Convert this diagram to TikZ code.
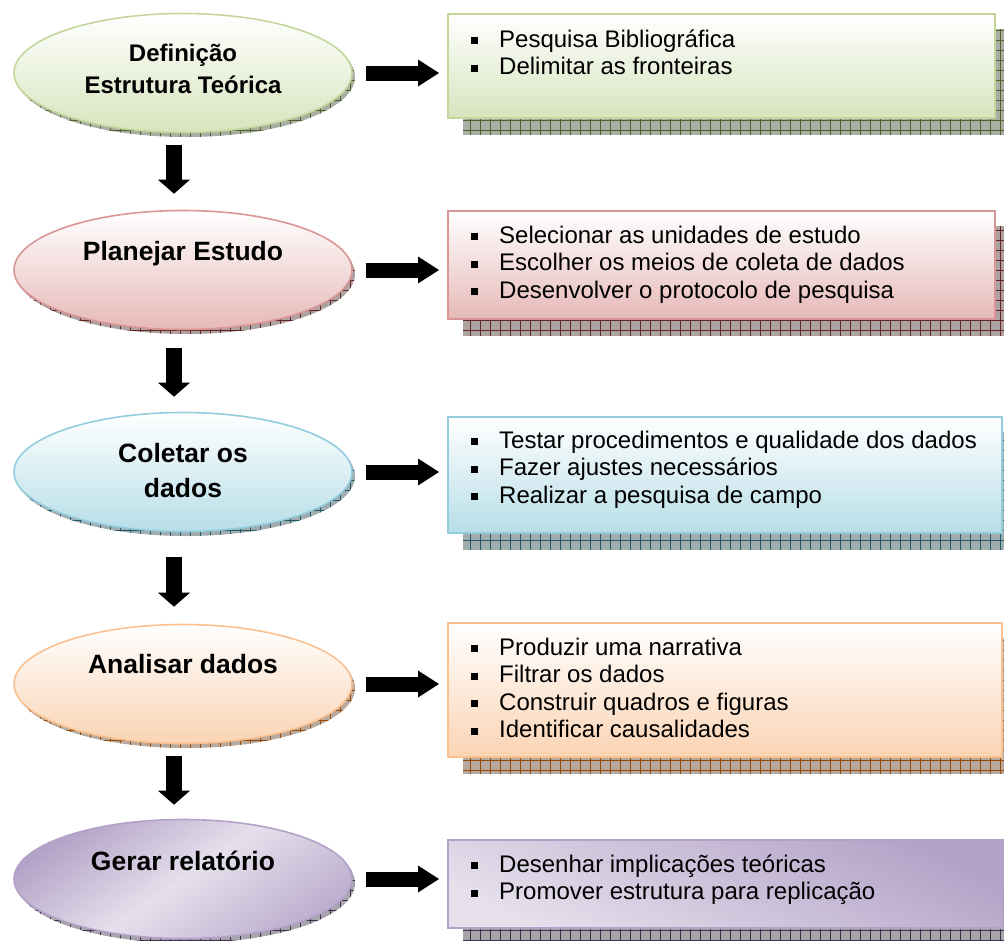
\documentclass[tikz,border=0pt]{standalone}
\usepackage{fontspec}
\setmainfont{Liberation Sans}
\usetikzlibrary{arrows.meta,shapes.geometric,calc,backgrounds}
\definecolor{gBd}{HTML}{C3D69B}\definecolor{gBt}{HTML}{D7E4BD}\definecolor{gSh}{HTML}{4F6228}
\definecolor{rBd}{HTML}{D99694}\definecolor{rBt}{HTML}{E6B9B8}\definecolor{rSh}{HTML}{632423}
\definecolor{bBd}{HTML}{93CDDD}\definecolor{bBt}{HTML}{B7DEE8}\definecolor{bSh}{HTML}{215968}
\definecolor{oBd}{HTML}{FAC090}\definecolor{oBt}{HTML}{FBD4B4}\definecolor{oSh}{HTML}{984807}
\definecolor{pBd}{HTML}{B3A2C7}\definecolor{pLt}{HTML}{E5E0EC}\definecolor{pSh}{HTML}{3F3151}
\newcommand\bul{\makebox[28pt][l]{\raisebox{3pt}{\rule{7pt}{7pt}}}}
\newcommand\gridshade[2]{%
  \fill[#1!30!gray!60!white] (0,0) rectangle (1004,940);
  \draw[#1, line width=0.7pt, step=10pt] (0,0) grid (1004,940);}
\tikzset{
  stage/.style={ellipse, draw=#1, line width=1.6pt, minimum width=338pt, minimum height=119pt, inner sep=0pt},
  panel/.style={rectangle, draw=#1, line width=2pt, anchor=north west, inner sep=0pt},
  etext/.style={anchor=base, inner sep=0pt, font=\fontsize{26.5}{32}\selectfont\bfseries},
  btext/.style={anchor=base west, inner sep=0pt, font=\fontsize{24}{27.5}\selectfont},
  darr/.style={line width=16pt, -{Triangle[length=14pt,width=32pt,line width=0pt]}},
  rarr/.style={line width=15pt, -{Triangle[length=21pt,width=27pt,line width=0pt]}, shorten <=13pt, shorten >=8pt}
}
\begin{document}
\begin{tikzpicture}[x=1pt,y=-1pt]
\useasboundingbox (0,0) rectangle (1004,940);
% ellipses
\node[stage=gBd, top color=white, bottom color=gBt] (e1) at (183,73) {};
\node[stage=rBd, top color=white, bottom color=rBt] (e2) at (183,270) {};
\node[stage=bBd, top color=white, bottom color=bBt] (e3) at (183,472) {};
\node[stage=oBd, top color=white, bottom color=oBt] (e4) at (183,684) {};
\node[stage=pBd, top color=pBd, bottom color=pBd!80!pLt, middle color=pLt, shading angle=35] (e5) at (183,879) {};
% ellipse texts
\node[etext, font=\fontsize{24}{32}\selectfont\bfseries] (t1) at (183,61) {\begin{tabular}[t]{@{}c@{}}Definição\\Estrutura Teórica\end{tabular}};
\node[etext] (t2) at (183,260) {Planejar Estudo};
\node[etext] (t3) at (183,462) {\begin{tabular}[t]{@{}c@{}}Coletar os\\[3pt]dados\end{tabular}};
\node[etext] (t4) at (183,673) {Analisar dados};
\node[etext] (t5) at (183,870) {Gerar relatório};
% panels
\node[panel=gBd, top color=white, bottom color=gBt, minimum width=547pt, minimum height=104pt] (b1) at (447,13) {};
\node[panel=rBd, top color=white, bottom color=rBt, minimum width=547pt, minimum height=108pt] (b2) at (447,210) {};
\node[panel=bBd, top color=white, bottom color=bBt, minimum width=554pt, minimum height=116pt] (b3) at (447,416) {};
\node[panel=oBd, top color=white, bottom color=oBt, minimum width=554pt, minimum height=134pt] (b4) at (447,622) {};
\node[panel=pBd, top color=pBd, bottom color=pLt, shading angle=-25, minimum width=555pt, minimum height=88pt] (b5) at (447,839) {};
% panel texts
\node[btext] (l1) at (471,47) {\begin{tabular}[t]{@{}l@{}}\bul Pesquisa Bibliográfica\\ \bul Delimitar as fronteiras\end{tabular}};
\node[btext] (l2) at (471,243) {\begin{tabular}[t]{@{}l@{}}\bul Selecionar as unidades de estudo\\ \bul Escolher os meios de coleta de dados\\ \bul Desenvolver o protocolo de pesquisa\end{tabular}};
\node[btext] (l3) at (471,448) {\begin{tabular}[t]{@{}l@{}}\bul Testar procedimentos e qualidade dos dados\\ \bul Fazer ajustes necessários\\ \bul Realizar a pesquisa de campo\end{tabular}};
\node[btext] (l4) at (471,655) {\begin{tabular}[t]{@{}l@{}}\bul Produzir uma narrativa\\ \bul Filtrar os dados\\ \bul Construir quadros e figuras\\ \bul Identificar causalidades\end{tabular}};
\node[btext] (l5) at (471,872) {\begin{tabular}[t]{@{}l@{}}\bul Desenhar implicações teóricas\\ \bul Promover estrutura para replicação\end{tabular}};
% shadows
\begin{scope}[on background layer]
  \foreach \e/\c in {e1/gSh,e2/rSh,e3/bSh,e4/oSh,e5/pSh}{
    \begin{scope}
      \clip ([shift={(3pt,-4pt)}]\e.center) ellipse [x radius=169pt, y radius=60pt];
      \gridshade{\c}{}
    \end{scope}}
  \foreach \b/\c in {b1/gSh,b2/rSh,b3/bSh,b4/oSh,b5/pSh}{
    \begin{scope}
      \clip ([shift={(16pt,-16pt)}]\b.north west) rectangle ([shift={(16pt,-15pt)}]\b.south east);
      \gridshade{\c}{}
    \end{scope}}
\end{scope}
% connectors
\draw[darr, shorten <=12pt, shorten >=16pt] ([xshift=-9pt]e1.south) -- ([xshift=-9pt]e2.north);
\draw[darr, shorten <=18pt, shorten >=15pt] ([xshift=-9pt]e2.south) -- ([xshift=-9pt]e3.north);
\draw[darr, shorten <=25pt, shorten >=17pt] ([xshift=-9pt]e3.south) -- ([xshift=-9pt]e4.north);
\draw[darr, shorten <=12pt, shorten >=14pt] ([xshift=-9pt]e4.south) -- ([xshift=-9pt]e5.north);
\draw[rarr] (e1.east) -- (e1.east -| b1.west);
\draw[rarr] (e2.east) -- (e2.east -| b2.west);
\draw[rarr] (e3.east) -- (e3.east -| b3.west);
\draw[rarr] (e4.east) -- (e4.east -| b4.west);
\draw[rarr] (e5.east) -- (e5.east -| b5.west);
\end{tikzpicture}
\end{document}
